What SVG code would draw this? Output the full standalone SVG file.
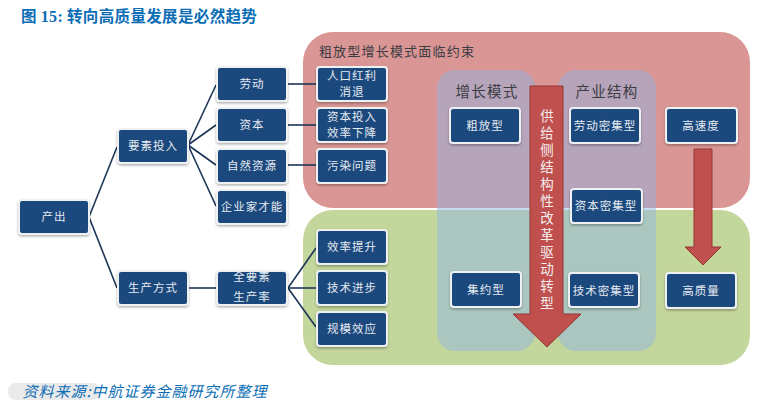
<svg xmlns="http://www.w3.org/2000/svg" width="759" height="408" viewBox="0 0 759 408">
<defs>
<filter id="sh" x="-10%" y="-15%" width="120%" height="135%"><feDropShadow dx="0" dy="1.5" stdDeviation="1.2" flood-color="#000" flood-opacity=".3"/></filter>
</defs>
<style>
text{font-family:"Noto Sans CJK SC","Noto Sans",sans-serif;text-anchor:middle}
.n rect{fill:#1f497d;stroke:#eef1f4;stroke-width:2;filter:url(#sh)}
.n text{fill:#e6ebf2;font-size:11.5px;letter-spacing:1px}
.c line{stroke:#1c3557;stroke-width:1.6}
.h{fill:#3c3c44;font-size:13px;letter-spacing:1.2px}
.a{fill:#c0504d;stroke:#943634;stroke-width:1}
.v{fill:#f3eeee;font-size:13.5px;letter-spacing:3.5px;writing-mode:vertical-rl;text-anchor:start}
</style>
<rect width="759" height="408" fill="#fff"/>
<text x="21" y="22" style="text-anchor:start;font-size:15.5px;font-weight:700;fill:#0a6db5;letter-spacing:.35px">图 <tspan font-family="Liberation Serif" font-size="16">15:</tspan> 转向高质量发展是必然趋势</text>
<g id="panels">
<rect x="303" y="32" width="447" height="176" rx="30" fill="#d99694"/>
<rect x="303" y="210" width="447" height="155" rx="30" fill="#c3d69b"/>
<rect x="437" y="70" width="98" height="281" rx="18" fill="#8eb4e3" fill-opacity=".48"/>
<rect x="558" y="70" width="98" height="281" rx="18" fill="#8eb4e3" fill-opacity=".48"/>
<text class="h" x="397" y="56">粗放型增长模式面临约束</text>
<text class="h" x="487" y="97" style="font-size:14.5px">增长模式</text>
<text class="h" x="607" y="97" style="font-size:14.5px">产业结构</text>
</g>
<g id="connectors" class="c">
<line x1="89" y1="217" x2="117" y2="147"/>
<line x1="89" y1="217" x2="117" y2="288"/>
<line x1="188" y1="145" x2="216" y2="85"/>
<line x1="188" y1="145" x2="216" y2="125"/>
<line x1="188" y1="145" x2="216" y2="165"/>
<line x1="188" y1="145" x2="216" y2="206"/>
<line x1="288" y1="84" x2="316" y2="84"/>
<line x1="288" y1="125" x2="316" y2="125"/>
<line x1="288" y1="165" x2="316" y2="165"/>
<line x1="189" y1="288" x2="216" y2="288"/>
<line x1="288" y1="288" x2="316" y2="248"/>
<line x1="288" y1="288" x2="316" y2="288"/>
<line x1="288" y1="288" x2="316" y2="327"/>
</g>
<g id="arrow-supply">
<path class="a" d="M530 86H563V314H581L547 347L513 314H530Z"/>
<text class="v" x="547" y="109">供给侧结构性改革驱动转型</text>
</g>
<g id="arrow-quality"><path class="a" d="M694 149H712V247H721L703 265L685 247H694Z"/></g>
<g id="n-chanchu" class="n"><rect x="19" y="200" width="70" height="34" rx="3"/><text x="54" y="221">产出</text></g>
<g id="n-yaosu" class="n"><rect x="118" y="129" width="70" height="34" rx="3"/><text x="153" y="150">要素投入</text></g>
<g id="n-shengchan" class="n"><rect x="118" y="271" width="70" height="34" rx="3"/><text x="153" y="292">生产方式</text></g>
<g id="n-laodong" class="n"><rect x="217" y="67" width="70" height="34" rx="3"/><text x="252" y="88">劳动</text></g>
<g id="n-ziben" class="n"><rect x="217" y="108" width="70" height="34" rx="3"/><text x="252" y="129">资本</text></g>
<g id="n-ziran" class="n"><rect x="217" y="149" width="70" height="34" rx="3"/><text x="252" y="170">自然资源</text></g>
<g id="n-qiye" class="n"><rect x="217" y="190" width="70" height="34" rx="3"/><text x="252" y="211">企业家才能</text></g>
<g id="n-tfp" class="n"><rect x="217" y="271" width="70" height="34" rx="3"/><text x="252" y="281">全要素<tspan x="252" dy="20">生产率</tspan></text></g>
<g id="n-renkou" class="n"><rect x="317" y="67" width="70" height="34" rx="3"/><text x="352" y="80">人口红利<tspan x="352" dy="16">消退</tspan></text></g>
<g id="n-touru" class="n"><rect x="317" y="108" width="70" height="34" rx="3"/><text x="352" y="121">资本投入<tspan x="352" dy="16">效率下降</tspan></text></g>
<g id="n-wuran" class="n"><rect x="317" y="149" width="70" height="34" rx="3"/><text x="352" y="170">污染问题</text></g>
<g id="n-xiaolv" class="n"><rect x="317" y="230" width="70" height="34" rx="3"/><text x="352" y="251">效率提升</text></g>
<g id="n-jishu" class="n"><rect x="317" y="271" width="70" height="34" rx="3"/><text x="352" y="292">技术进步</text></g>
<g id="n-guimo" class="n"><rect x="317" y="312" width="70" height="34" rx="3"/><text x="352" y="333">规模效应</text></g>
<g id="n-cufang" class="n"><rect x="450" y="108" width="70" height="35" rx="3"/><text x="485" y="130">粗放型</text></g>
<g id="n-jiyue" class="n"><rect x="451" y="272" width="70" height="35" rx="3"/><text x="486" y="294">集约型</text></g>
<g id="n-ldmj" class="n"><rect x="570" y="108" width="70" height="35" rx="3"/><text x="605" y="130">劳动密集型</text></g>
<g id="n-zbmj" class="n"><rect x="571" y="189" width="71" height="34" rx="3"/><text x="606" y="210">资本密集型</text></g>
<g id="n-jsmj" class="n"><rect x="569" y="273" width="70" height="34" rx="3"/><text x="604" y="295">技术密集型</text></g>
<g id="n-gsd" class="n"><rect x="666" y="108" width="71" height="35" rx="3"/><text x="701" y="130">高速度</text></g>
<g id="n-gzl" class="n"><rect x="666" y="273" width="70" height="35" rx="3"/><text x="701" y="295">高质量</text></g>
<rect x="8" y="383" width="92" height="17" rx="8" fill="#bbb" fill-opacity=".3"/>
<text x="145" y="397" style="font-size:15px;font-style:italic;fill:#0a6db5;letter-spacing:1px">资料来源:中航证券金融研究所整理</text>
</svg>
